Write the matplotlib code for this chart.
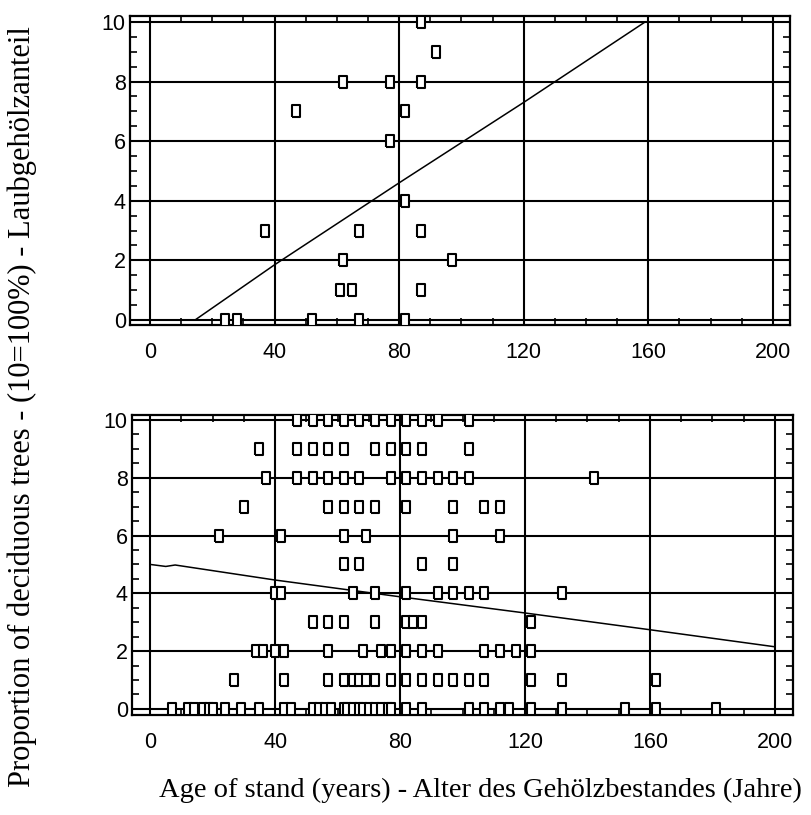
import matplotlib.pyplot as plt
from matplotlib.ticker import MultipleLocator

# upper panel: stand age vs. share of deciduous trees (0-10)
top_age = [87, 92, 62, 77, 87, 47, 82, 77, 82, 37, 67, 87, 62, 97, 61, 65, 87, 24, 28, 52, 67, 82]
top_share = [10, 9, 8, 8, 8, 7, 7, 6, 4, 3, 3, 3, 2, 2, 1, 1, 1, 0, 0, 0, 0, 0]
top_fit_age = [14.5, 40, 80, 120, 159]
top_fit_share = [0, 1.85, 4.6, 7.3, 10]

# lower panel, ages listed per share level
ages_10 = [47, 52, 57, 62, 67, 72, 77, 82, 87, 92, 102]
ages_9 = [35, 47, 52, 57, 62, 72, 77, 82, 87, 102]
ages_8 = [37, 47, 52, 57, 62, 67, 77, 82, 87, 92, 97, 102, 142]
ages_7 = [30, 57, 62, 67, 72, 82, 97, 107, 112]
ages_6 = [22, 42, 62, 69, 97, 112]
ages_5 = [62, 67, 87, 97]
ages_4 = [40, 42, 65, 72, 82, 92, 97, 102, 107, 132]
ages_3 = [52, 57, 62, 72, 82, 84, 87, 122]
ages_2 = [34, 36, 40, 43, 57, 68, 74, 77, 82, 87, 92, 107, 112, 117, 122]
ages_1 = [27, 43, 57, 62, 65, 67, 69, 72, 77, 82, 87, 92, 97, 102, 107, 122, 132, 162]
ages_0 = [7, 12, 14, 17, 19, 20, 24, 29, 35, 43, 45, 52, 54, 56, 58, 62, 63, 65, 67, 68,
          70, 72, 74, 76, 77, 82, 87, 102, 107, 112, 115, 122, 132, 152, 162, 181]
bottom_fit_age = [0, 5, 8, 40, 80, 120, 160, 200]
bottom_fit_share = [5.0, 4.93, 4.98, 4.46, 3.88, 3.32, 2.74, 2.15]

x_ticks = [0, 40, 80, 120, 160, 200]
y_ticks = [0, 2, 4, 6, 8, 10]

rows = [ages_0, ages_1, ages_2, ages_3, ages_4, ages_5, ages_6, ages_7, ages_8, ages_9, ages_10]
bottom_age = []
bottom_share = []
for share, ages in enumerate(rows):
    bottom_age += ages
    bottom_share += [share] * len(ages)

# narrow upright rectangle as marker
rect = [(-0.3, -0.5), (0.3, -0.5), (0.3, 0.5), (-0.3, 0.5), (-0.3, -0.5)]

fig = plt.figure(figsize=(8.11, 8.15), dpi=100)
ax1 = fig.add_axes([0.1603, 0.6012, 0.8138, 0.3792])
ax2 = fig.add_axes([0.1628, 0.1227, 0.8150, 0.3681])


def style(ax, xlim, ylim):
    ax.set_xlim(*xlim)
    ax.set_ylim(*ylim)
    ax.set_xticks(x_ticks)
    ax.set_yticks(y_ticks)
    ax.xaxis.set_minor_locator(MultipleLocator(10))
    ax.yaxis.set_minor_locator(MultipleLocator(0.5))
    ax.grid(True, which='major', color='black', lw=1.5)
    ax.set_axisbelow(True)
    for s in ax.spines.values():
        s.set_linewidth(1.6)
    ax.tick_params(which='major', length=0)
    ax.tick_params(axis='x', which='major', pad=12)
    ax.tick_params(axis='y', which='major', pad=3)
    ax.tick_params(which='minor', direction='in', length=5, width=1.2,
                   top=True, right=True, bottom=True, left=True)
    for lab in ax.get_xticklabels() + ax.get_yticklabels():
        lab.set_fontfamily('Liberation Sans')
        lab.set_fontsize(15.5)


style(ax1, (-6.4, 205.5), (-0.17, 10.2))
ax1.plot(top_fit_age, top_fit_share, color='black', lw=1.1, zorder=2)
ax1.plot(top_age, top_share, ls='none', marker=rect, ms=9, mfc='white',
         mec='black', mew=1.5, zorder=3)

style(ax2, (-5.8, 205.8), (-0.21, 10.17))
ax2.plot(bottom_fit_age, bottom_fit_share, color='black', lw=1.1, zorder=2)
ax2.plot(bottom_age, bottom_share, ls='none', marker=rect, ms=9, mfc='white',
         mec='black', mew=1.5, zorder=3)

fig.text(22 / 811, 1 - 407 / 815, 'Proportion of deciduous trees - (10=100%) - Laubgehölzanteil',
         rotation=90, ha='center', va='center', family='Liberation Serif', fontsize=22)
fig.text(480 / 811, 1 - 790 / 815, 'Age of stand (years) - Alter des Gehölzbestandes (Jahre)',
         ha='center', va='center', family='Liberation Serif', fontsize=20.5)

fig.savefig('out.png', dpi=100)
